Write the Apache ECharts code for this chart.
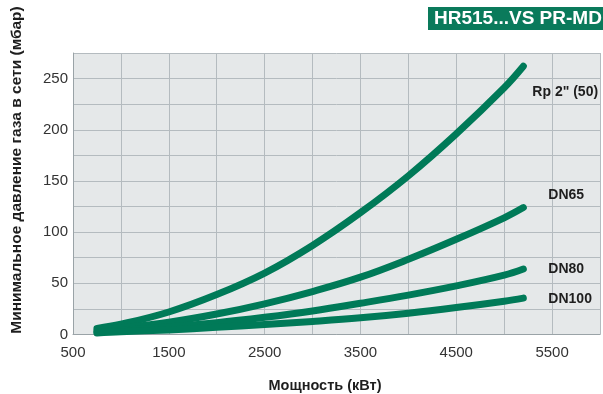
<!DOCTYPE html>
<html>
<head>
<meta charset="utf-8">
<script src="https://cdn.jsdelivr.net/npm/echarts@6/dist/echarts.min.js"></script>
<style>
html,body{margin:0;padding:0;background:#fff;}
#c{width:603px;height:394px;}
</style>
</head>
<body>
<div id="c"></div>
<script>
// Power (kW)
const power = [750, 1000, 1500, 2000, 2500, 3000, 3500, 4000, 4500, 5000, 5200];
// Minimum gas supply pressure (mbar)
const rp2 = [6, 10, 22, 39, 60, 87, 119, 155, 196, 241, 262];
const dn65 = [4, 6.5, 12, 20, 30, 42, 56, 73.5, 93, 114, 124];
const dn80 = [2.5, 4, 7.5, 11.5, 16.8, 23, 30.5, 38.5, 47.5, 58, 64];
const dn100 = [1.5, 2.7, 4.5, 7, 9.8, 12.8, 16.3, 20.8, 26.3, 32.5, 35.5];
const seriesNames = ['Rp 2" (50)', 'DN65', 'DN80', 'DN100'];
const xTicks = [500, 1500, 2500, 3500, 4500, 5500];
const yTicks = [0, 50, 100, 150, 200, 250];

const green = '#007a58';
const pairs = arr => power.map((p, i) => [p, arr[i]]);
const labelOffsets = [[1, 26], [17, -12], [17, 0], [17, 1]];

const chart = echarts.init(document.getElementById('c'), null, {renderer: 'canvas'});
const mk = (name, data, off) => ({
  type: 'line', name, data: pairs(data), smooth: 0.4, showSymbol: false,
  lineStyle: {width: 7, color: green, cap: 'round', join: 'round'},
  itemStyle: {color: green},
  endLabel: {show: true, formatter: name, offset: off, color: '#1e1e1e',
    fontFamily: 'Liberation Sans', fontWeight: 'bold', fontSize: 14},
  animation: false, silent: true
});

chart.setOption({
  animation: false,
  backgroundColor: '#ffffff',
  grid: {left: 73, top: 53, right: -9, bottom: 59.5, show: true,
    backgroundColor: '#e5e8e9', borderWidth: 0},
  xAxis: {
    type: 'value', min: 500, max: 6000, interval: 500,
    axisLine: {show: true, lineStyle: {color: '#9aa3a7', width: 1}},
    axisTick: {show: false},
    splitLine: {show: true, lineStyle: {color: '#b4bbbf', width: 1}},
    axisLabel: {margin: 11, fontSize: 15, color: '#333', fontFamily: 'Liberation Sans',
      formatter: v => xTicks.includes(v) ? String(v) : ''}
  },
  yAxis: {
    type: 'value', min: 0, max: 275, interval: 25,
    axisLine: {show: true, lineStyle: {color: '#9aa3a7', width: 1}},
    axisTick: {show: false},
    splitLine: {show: true, lineStyle: {color: '#b4bbbf', width: 1}},
    axisLabel: {margin: 5, fontSize: 15, color: '#333', fontFamily: 'Liberation Sans',
      formatter: v => yTicks.includes(v) ? String(v) : ''}
  },
  series: [
    mk(seriesNames[0], rp2, labelOffsets[0]),
    mk(seriesNames[1], dn65, labelOffsets[1]),
    mk(seriesNames[2], dn80, labelOffsets[2]),
    mk(seriesNames[3], dn100, labelOffsets[3])
  ],
  graphic: [
    {type: 'rect', shape: {x: 428, y: 7, width: 180, height: 23}, style: {fill: '#0a7a5b'}},
    {type: 'text', x: 434, y: 18.5, style: {text: 'HR515...VS PR-MD', fill: '#ffffff',
      font: 'bold 19px "Liberation Sans"', verticalAlign: 'middle'}},
    {type: 'text', x: 17, y: 170, rotation: Math.PI / 2, style: {text: 'Минимальное давление газа в сети (мбар)',
      fill: '#1e1e1e', font: 'bold 15.5px "Liberation Sans"', align: 'center', verticalAlign: 'middle'}},
    {type: 'text', x: 325, y: 386, style: {text: 'Мощность (кВт)', fill: '#1e1e1e',
      font: 'bold 14.5px "Liberation Sans"', align: 'center', verticalAlign: 'middle'}}
  ]
});
</script>
</body>
</html>
